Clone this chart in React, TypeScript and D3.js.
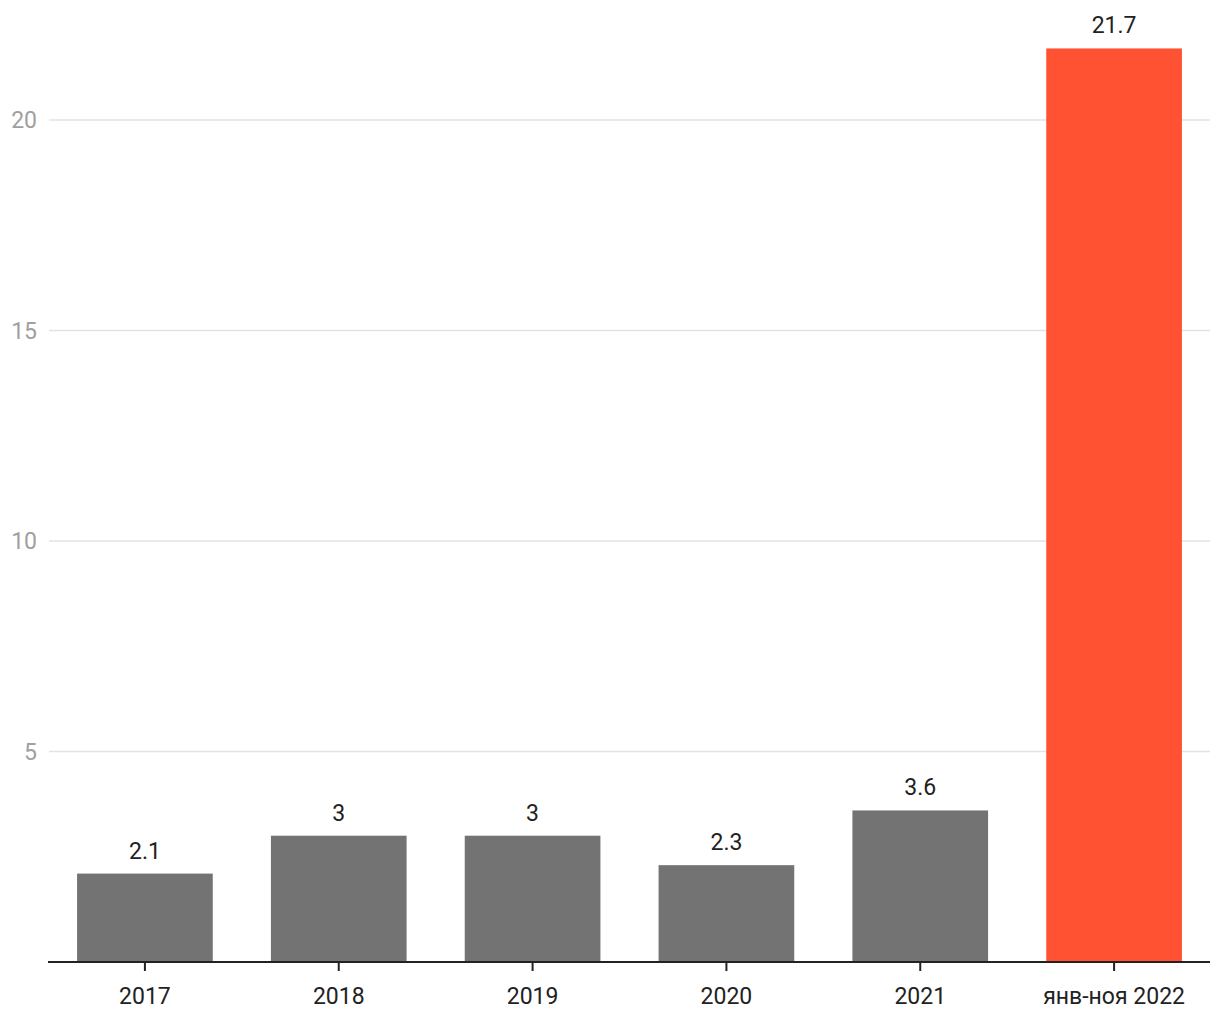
import React from "react";
import * as d3 from "d3";

const categories = ["2017", "2018", "2019", "2020", "2021", "янв-ноя 2022"];
const values = [2.1, 3, 3, 2.3, 3.6, 21.7];
const valueLabels = ["2.1", "3", "3", "2.3", "3.6", "21.7"];
const yTicks = [5, 10, 15, 20];

const W = 1220;
const H = 1020;
const margin = { left: 48, right: 10, top: 0, bottom: 0 };
const plotRight = 1211;
const baseY = 962;

export default function App() {
  const x = d3
    .scaleBand<string>()
    .domain(categories)
    .range([margin.left, plotRight])
    .paddingInner(0.3)
    .paddingOuter(0.15);
  const y = d3.scaleLinear().domain([0, 20]).range([baseY, 120]);
  const font = "Roboto, 'Noto Sans', sans-serif";

  return (
    <svg
      width={W}
      height={H}
      style={{ position: "absolute", left: 0, top: 0, display: "block" }}
      fontFamily={font}
    >
      {yTicks.map((t) => (
        <g key={t}>
          <line x1={49} x2={1210} y1={y(t)} y2={y(t)} stroke="#e3e3e3" strokeWidth={1.5} />
          <text x={37} y={y(t)} dy="0.35em" textAnchor="end" fontSize={23} fill="#a0a0a0">
            {t}
          </text>
        </g>
      ))}
      {categories.map((c, i) => (
        <g key={c}>
          <rect
            x={x(c)}
            y={y(values[i])}
            width={x.bandwidth()}
            height={baseY - y(values[i])}
            fill={i === categories.length - 1 ? "#ff5233" : "#737373"}
          />
          <text
            x={(x(c) as number) + x.bandwidth() / 2}
            y={y(values[i]) - 15}
            textAnchor="middle"
            fontSize={23}
            fill="#222"
          >
            {valueLabels[i]}
          </text>
          <line
            x1={(x(c) as number) + x.bandwidth() / 2}
            x2={(x(c) as number) + x.bandwidth() / 2}
            y1={baseY}
            y2={baseY + 9}
            stroke="#222"
            strokeWidth={2}
          />
          <text
            x={(x(c) as number) + x.bandwidth() / 2}
            y={1004}
            textAnchor="middle"
            fontSize={23}
            fill="#222"
          >
            {c}
          </text>
        </g>
      ))}
      <line x1={48} x2={1210} y1={baseY} y2={baseY} stroke="#222" strokeWidth={2} />
    </svg>
  );
}
